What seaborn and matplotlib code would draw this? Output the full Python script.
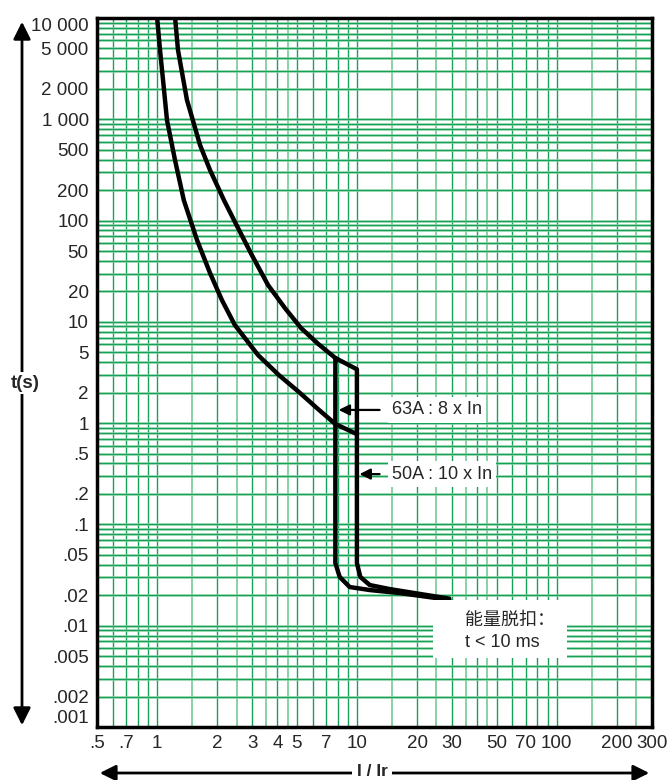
import numpy as np
import pandas as pd
import matplotlib
matplotlib.use("Agg")
import matplotlib.pyplot as plt
from matplotlib.patches import Rectangle, FancyArrowPatch
import seaborn as sns

# Courbes de declenchement (I/Ir, t en s)
lower_i = [1.0, 1.034, 1.095, 1.12, 1.229, 1.36, 1.583, 1.84, 2.11, 2.45, 3.2, 4.07,
           5.2, 6.30, 7.8, 10.0]
lower_t = [10000, 4820, 1550, 982, 395, 159, 64.3, 30.3, 16.4, 9.29, 4.7, 2.98,
           1.98, 1.41, 0.98, 0.78]

upper_i = [1.23, 1.272, 1.41, 1.64, 1.84, 2.16, 2.54, 2.98, 3.59, 4.36, 5.25, 6.41, 7.8,
           10.0, 10.0, 10.4, 11.6, 14.6, 29.0]
upper_t = [10000, 4820, 1550, 556, 315, 159, 84.4, 45.6, 23.1, 13.7, 8.69, 6.04, 4.4,
           3.4, 0.0416, 0.0303, 0.0252, 0.0230, 0.0185]

magn_i = [7.8, 7.8, 8.2, 9.2, 11.6, 16.4, 29.0]
magn_t = [4.4, 0.0416, 0.0303, 0.0241, 0.0225, 0.0210, 0.0180]

x_ticks = [0.5, 0.7, 1, 2, 3, 4, 5, 7, 10, 20, 30, 50, 70, 100, 200, 300]
x_labels = [".5", ".7", "1", "2", "3", "4", "5", "7", "10", "20", "30", "50", "70", "100", "200", "300"]
y_ticks = [10000, 5000, 2000, 1000, 500, 200, 100, 50, 20, 10, 5, 2, 1,
           0.5, 0.2, 0.1, 0.05, 0.02, 0.01, 0.005, 0.002, 0.001]
y_labels = ["10 000", "5 000", "2 000", "1 000", "500", "200", "100", "50", "20", "10",
            "5", "2", "1", ".5", ".2", ".1", ".05", ".02", ".01", ".005", ".002", ".001"]

x_mult = [1, 1.5, 2, 2.5, 3, 3.5, 4, 4.5, 5, 6, 7, 8, 9]
y_mult = [1, 2, 3, 4, 5, 6, 7, 8, 9]

sns.set_theme(style="white")
plt.rcParams["font.family"] = ["Liberation Sans", "Noto Sans CJK SC", "DejaVu Sans"]

df = pd.concat([
    pd.DataFrame({"I": lower_i, "t": lower_t, "curve": "lower"}),
    pd.DataFrame({"I": upper_i, "t": upper_t, "curve": "upper"}),
    pd.DataFrame({"I": magn_i, "t": magn_t, "curve": "magn"}),
])

fig = plt.figure(figsize=(6.68, 7.8), dpi=100)
ax = fig.add_axes([97 / 668, 53 / 780, 555 / 668, 709 / 780])
ax.set_xscale("log")
ax.set_yscale("log")
ax.set_xlim(0.5, 300)
ax.set_ylim(0.001, 10000)

# grille verte
dark, light = "#16a058", "#86d2a4"
xg = [0.6, 0.7, 0.8, 0.9] + [m * d for d in (1, 10, 100) for m in x_mult if m * d < 300]
for v in xg:
    half = round(v / 10 ** np.floor(np.log10(v)), 2) in (1.5, 2.5, 3.5, 4.5)
    ax.axvline(v, color=light if half else dark, lw=1.4 if half else 1.0, zorder=1)
for d in (0.001, 0.01, 0.1, 1, 10, 100, 1000):
    for m in y_mult:
        v = m * d
        ax.axhline(v, color=light, lw=1.8, zorder=1)
        ax.axhline(v, color=dark, lw=0.8, zorder=1)

sns.lineplot(data=df, x="I", y="t", units="curve", estimator=None, sort=False,
             color="black", lw=3.2, ax=ax, zorder=5)

ax.set_xticks(x_ticks)
ax.set_xticklabels(x_labels, fontsize=13.5)
ax.set_yticks(y_ticks)
ax.set_yticklabels(y_labels, fontsize=13.5)
ax.minorticks_off()
ax.tick_params(length=0, pad=6)
ylab = ax.get_yticklabels()
ylab[0].set_va("top")
ylab[-1].set_va("bottom")
ax.set_xlabel("")
ax.set_ylabel("")
for s in ax.spines.values():
    s.set_color("black")
    s.set_linewidth(2.5)
    s.set_zorder(6)

# annotations
box = dict(facecolor="white", edgecolor="none", pad=3)
ax.annotate("63A : 8 x In", xy=(8.1, 1.35), xytext=(15, 1.35), fontsize=13,
            va="center", bbox=box, zorder=7,
            arrowprops=dict(arrowstyle="-|>", color="black", lw=1.6, mutation_scale=16,
                            shrinkA=6, shrinkB=0))
ax.annotate("50A : 10 x In", xy=(10.3, 0.314), xytext=(15, 0.314), fontsize=13,
            va="center", bbox=box, zorder=7,
            arrowprops=dict(arrowstyle="-|>", color="black", lw=1.6, mutation_scale=16,
                            shrinkA=6, shrinkB=0))
ax.add_patch(Rectangle((24.1, 0.0048), 112 - 24.1, 0.018 - 0.0048, facecolor="white",
                       edgecolor="none", zorder=6))
ax.text(34.7, 0.0088, "能量脱扣：\nt < 10 ms", fontsize=13, va="center", ha="left",
        linespacing=1.35, zorder=7)

# fleches des axes
fig.add_artist(FancyArrowPatch(
    (22 / 668, 1 - 19 / 780), (22 / 668, 1 - 728 / 780), transform=fig.transFigure,
    arrowstyle="<|-|>", mutation_scale=26, color="black", lw=2))
fig.text(25 / 668, 1 - 383 / 780, "t(s)", fontsize=13.5, fontweight="bold", ha="center",
         va="center", bbox=dict(facecolor="white", edgecolor="none", pad=2))
fig.add_artist(FancyArrowPatch(
    (97 / 668, 1 - 773 / 780), (652 / 668, 1 - 773 / 780), transform=fig.transFigure,
    arrowstyle="<|-|>", mutation_scale=24, color="black", lw=2))
fig.text(372 / 668, 1 - 772 / 780, "I / Ir", fontsize=12.5, fontweight="bold", ha="center",
         va="center", bbox=dict(facecolor="white", edgecolor="none", pad=3))

plt.savefig("out.png", dpi=100)
plt.close()
